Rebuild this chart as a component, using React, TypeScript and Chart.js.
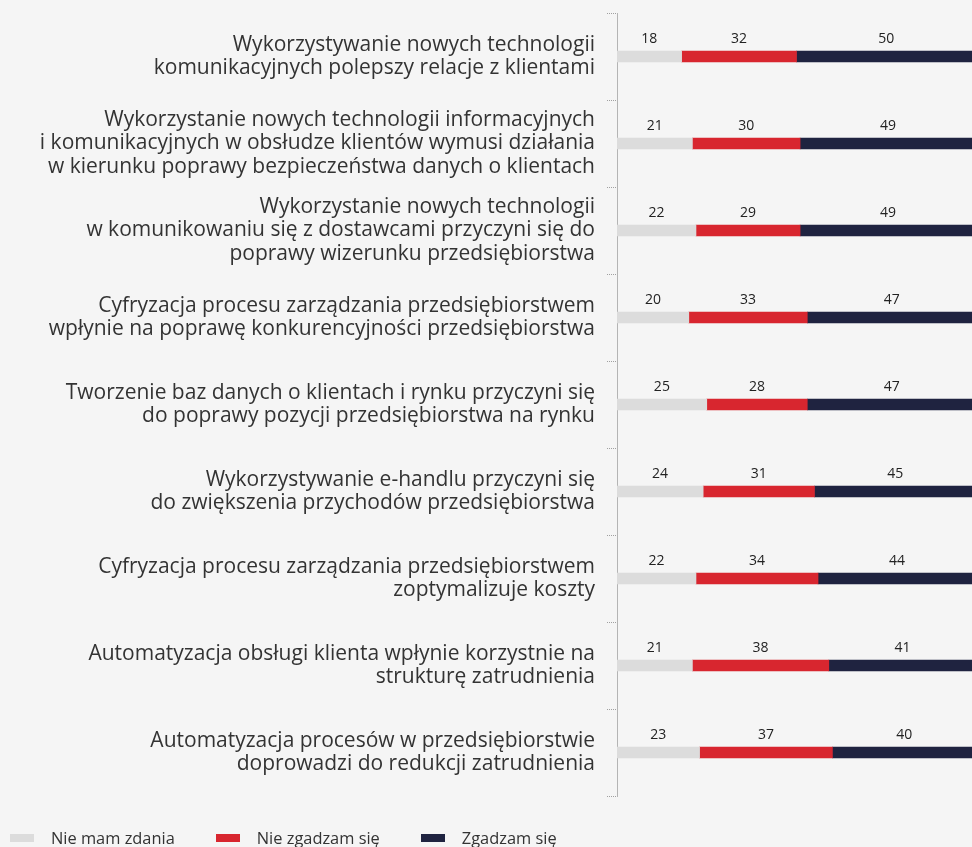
import React, { useEffect, useRef } from "react";
import { Chart, registerables } from "chart.js";

Chart.register(...registerables);

const categories: string[][] = [
  ["Wykorzystywanie nowych technologii", "komunikacyjnych polepszy relacje z klientami"],
  ["Wykorzystanie nowych technologii informacyjnych", "i komunikacyjnych w obsłudze klientów wymusi działania", "w kierunku poprawy bezpieczeństwa danych o klientach"],
  ["Wykorzystanie nowych technologii", "w komunikowaniu się z dostawcami przyczyni się do", "poprawy wizerunku przedsiębiorstwa"],
  ["Cyfryzacja procesu zarządzania przedsiębiorstwem", "wpłynie na poprawę konkurencyjności przedsiębiorstwa"],
  ["Tworzenie baz danych o klientach i rynku przyczyni się", "do poprawy pozycji przedsiębiorstwa na rynku"],
  ["Wykorzystywanie e-handlu przyczyni się", "do zwiększenia przychodów przedsiębiorstwa"],
  ["Cyfryzacja procesu zarządzania przedsiębiorstwem", "zoptymalizuje koszty"],
  ["Automatyzacja obsługi klienta wpłynie korzystnie na", "strukturę zatrudnienia"],
  ["Automatyzacja procesów w przedsiębiorstwie", "doprowadzi do redukcji zatrudnienia"],
];

const noOpinion = [18, 21, 22, 20, 25, 24, 22, 21, 23];
const disagree = [32, 30, 29, 33, 28, 31, 34, 38, 37];
const agree = [50, 49, 49, 47, 47, 45, 44, 41, 40];

const seriesNames = ["Nie mam zdania", "Nie zgadzam się", "Zgadzam się"];
const seriesColors = ["#dcdcdc", "#d8262f", "#1f2340"];

const FONT = "'Open Sans', sans-serif";

const valueLabels = {
  id: "valueLabels",
  afterDatasetsDraw(chart: any) {
    const ctx = chart.ctx;
    ctx.save();
    ctx.font = `14px ${FONT}`;
    ctx.fillStyle = "#222";
    ctx.textAlign = "center";
    ctx.textBaseline = "bottom";
    chart.data.datasets.forEach((ds: any, di: number) => {
      const meta = chart.getDatasetMeta(di);
      meta.data.forEach((bar: any, i: number) => {
        const p = bar.getProps(["x", "y", "base", "height"], true);
        const cx = (p.x + p.base) / 2;
        const top = p.y - p.height / 2;
        ctx.fillText(String(ds.data[i]), cx, top - 5);
      });
    });
    ctx.restore();
  },
};

export default function App() {
  const ref = useRef<HTMLCanvasElement>(null);
  useEffect(() => {
    document.body.style.margin = "0";
    const chart = new Chart(ref.current!, {
      type: "bar",
      data: {
        labels: categories,
        datasets: [noOpinion, disagree, agree].map((d, i) => ({
          label: seriesNames[i],
          data: d,
          backgroundColor: seriesColors[i],
          borderWidth: 0,
          barThickness: 11,
        })),
      },
      options: {
        indexAxis: "y",
        animation: false,
        responsive: false,
        maintainAspectRatio: false,
        layout: { padding: { top: 13, bottom: 51, left: 0, right: 0 } },
        plugins: { legend: { display: false }, tooltip: { enabled: false } },
        scales: {
          x: { stacked: true, min: 0, max: 100, display: false },
          y: {
            stacked: true,
            afterFit: (s: any) => {
              s.width = 617;
              s.paddingTop = 0;
              s.paddingBottom = 0;
            },
            border: { display: true, color: "#b4b4b4", dash: [1, 1], width: 1 },
            grid: {
              offset: true,
              drawOnChartArea: false,
              drawTicks: true,
              tickLength: 10,
              tickColor: "#a0a0a0",
              tickBorderDash: [1, 1],
            },
            ticks: {
              padding: 12,
              color: "#333",
              font: { family: FONT, size: 21, lineHeight: 1.13 },
            },
          },
        },
      },
      plugins: [valueLabels],
    });
    return () => chart.destroy();
  }, []);

  const legendItems = seriesNames.map((n, i) => (
    <div key={n} style={{ display: "flex", alignItems: "center", marginRight: 41 }}>
      <div style={{ width: 24, height: 8, background: seriesColors[i], marginRight: 17 }} />
      <span>{n}</span>
    </div>
  ));

  return (
    <div style={{ position: "relative", width: 972, height: 847, overflow: "hidden", background: "#f5f5f5" }}>
      <canvas ref={ref} width={976} height={847} style={{ position: "absolute", left: 0, top: 0 }} />
      <div
        style={{
          position: "absolute",
          left: 10,
          top: 828,
          display: "flex",
          alignItems: "center",
          fontFamily: FONT,
          fontSize: 16.4,
          color: "#333",
          lineHeight: "20px",
        }}
      >
        {legendItems}
      </div>
    </div>
  );
}
